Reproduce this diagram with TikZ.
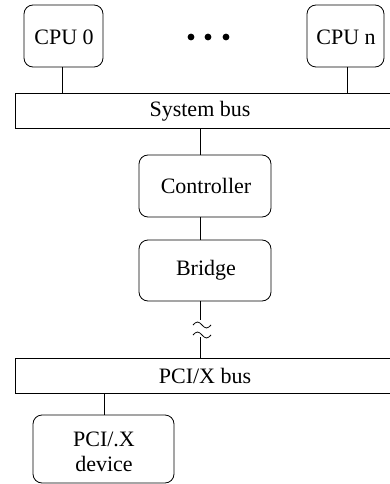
\documentclass[tikz,border=0pt]{standalone}
\usepackage{fontspec}
\setmainfont{Liberation Serif}
\tikzset{
  unit/.style={draw, rounded corners=9pt, line width=0.8pt},
  bus/.style={draw, line width=0.8pt},
  wire/.style={draw, line width=0.8pt},
  lbl/.style={font=\fontsize{22}{25}\selectfont, align=center, inner sep=0pt},
  wiggle/.style={draw, line width=0.8pt}
}
\begin{document}
\begin{tikzpicture}[x=1pt, y=-1pt]
\useasboundingbox (0,0) rectangle (389,484);
% processors
\draw[unit] (24,5) rectangle (103,67);
\node[lbl] (cpu0) at (64,37) {CPU 0};
\draw[unit] (307,5) rectangle (384,67);
\node[lbl] (cpun) at (346,37) {CPU n};
\foreach \x in {191,208,226} \fill (\x,37) circle (3.4pt);
% system bus
\draw[bus] (15,93) rectangle (395,128);
\node[lbl] (sysbus) at (200,111) {System bus};
\draw[wire] (62,67) -- (62,93);
\draw[wire] (347,67) -- (347,93);
% controller and bridge
\draw[wire] (200.5,128) -- (200.5,155);
\draw[unit] (139,155) rectangle (271,217);
\node[lbl] (ctrl) at (206,186) {Controller};
\draw[wire] (200.5,217) -- (200.5,240);
\draw[unit] (139,240) rectangle (271,301);
\node[lbl] (bridge) at (206,270) {Bridge};
% broken link to the PCI/X bus
\draw[wire] (200.5,301) -- (200.5,320);
\draw[wire] (200.5,337) -- (200.5,358);
\draw[wiggle] (193,325) sin (197.5,322) cos (202,325) sin (206.5,328) cos (211,325);
\draw[wiggle] (193,335) sin (197.5,332) cos (202,335) sin (206.5,338) cos (211,335);
% PCI/X bus
\draw[bus] (15,358) rectangle (395,393);
\node[lbl] (pcibus) at (205,376) {PCI/X bus};
\draw[wire] (104,393) -- (104,415);
\draw[unit] (33,415) rectangle (174,483);
\node[lbl, text depth=0pt] (dev) at (104,452) {PCI/.X\\device};
\end{tikzpicture}
\end{document}
